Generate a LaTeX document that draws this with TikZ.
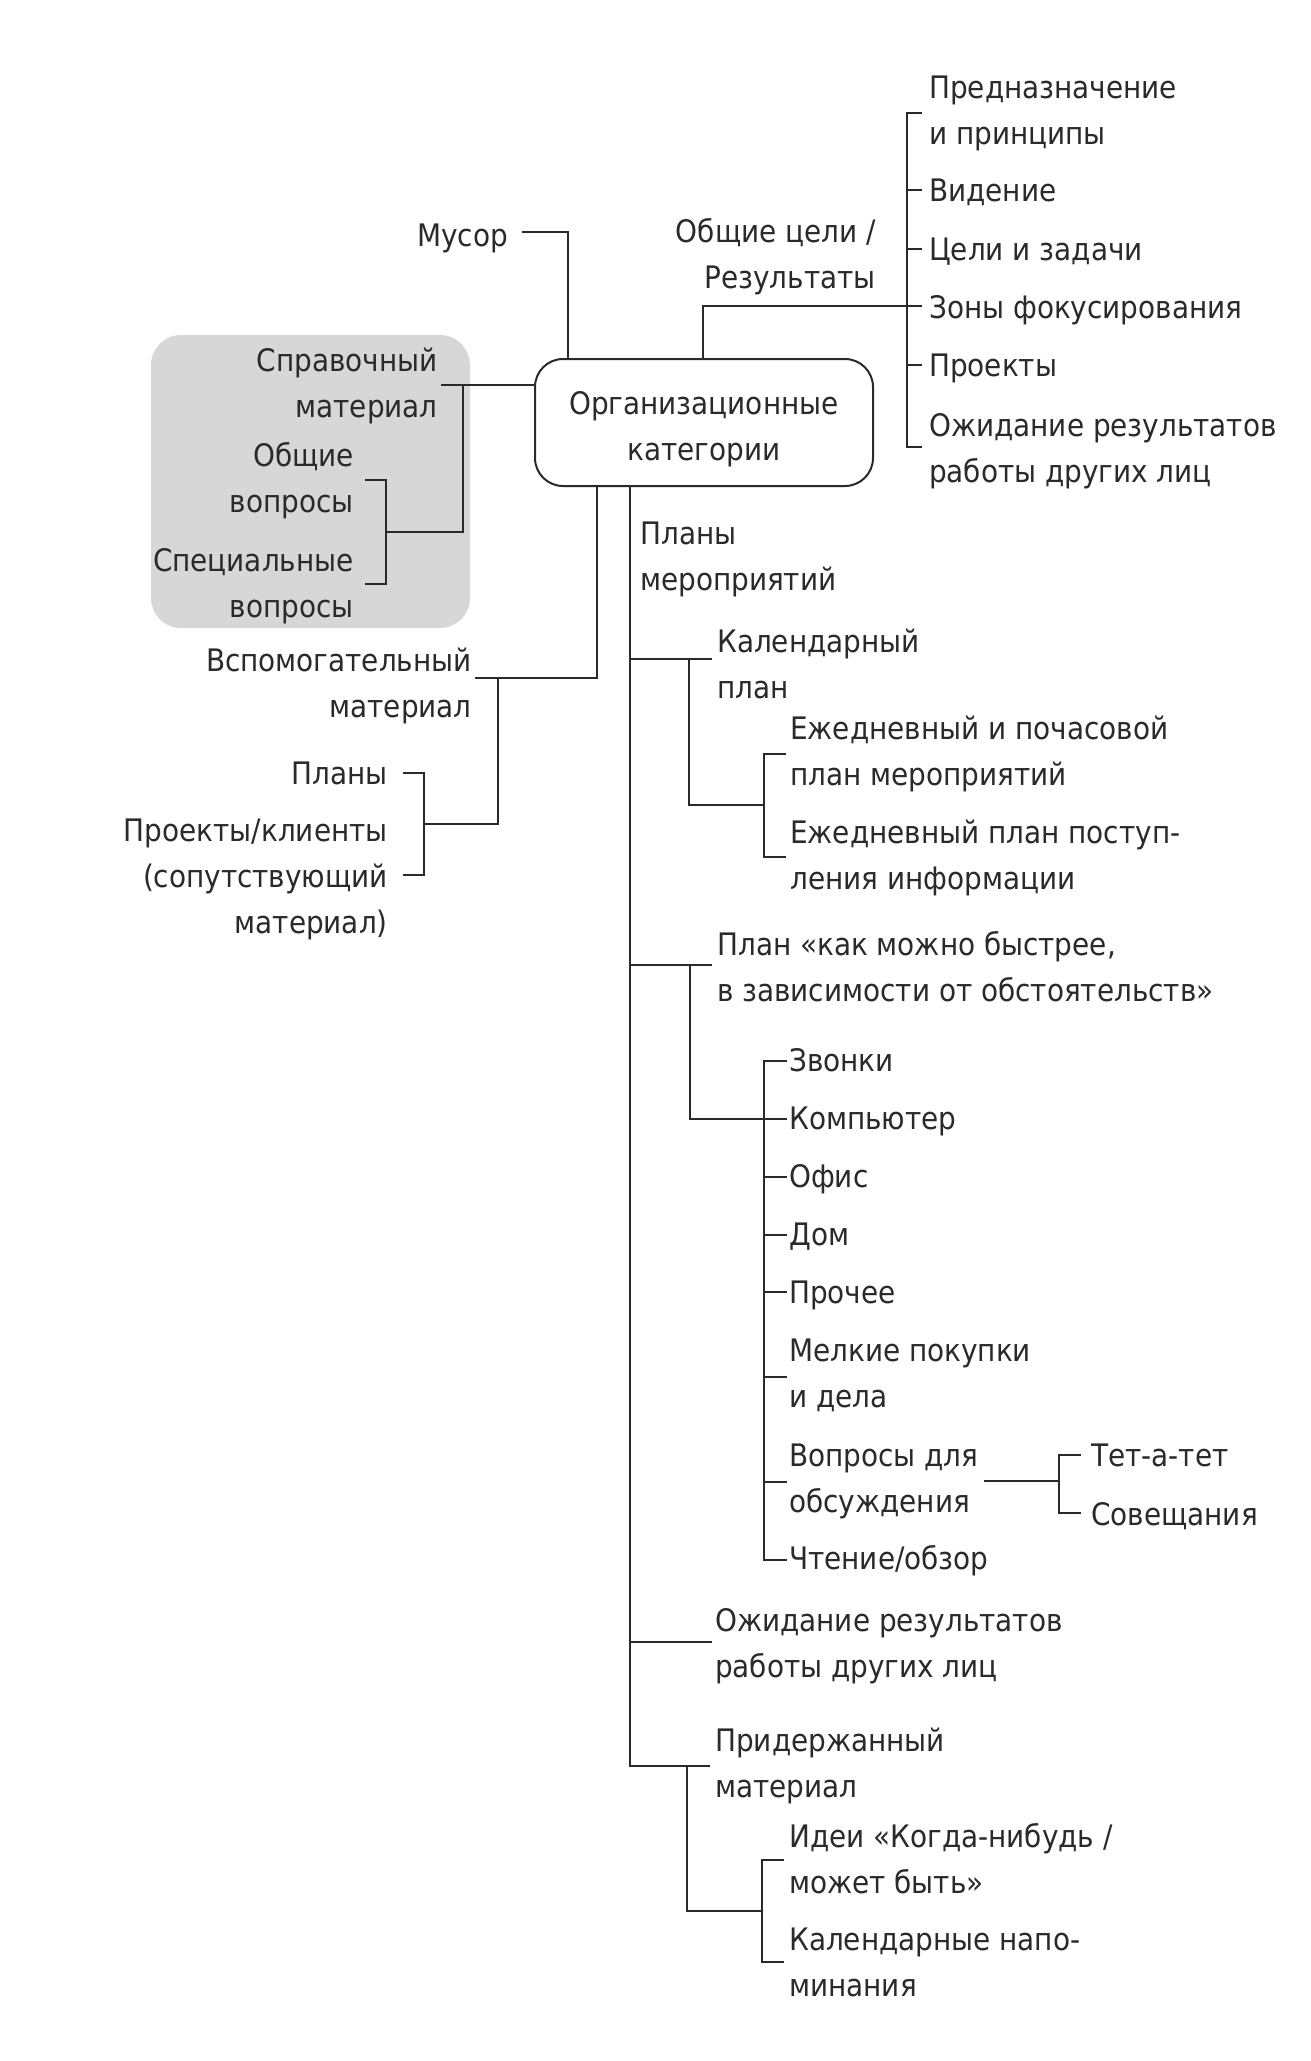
\documentclass[tikz,border=0pt]{standalone}
\usepackage{fontspec}
\setmainfont{DejaVu Sans Condensed}
\definecolor{ink}{HTML}{2A2A2A}
\definecolor{shade}{HTML}{D7D7D7}
\newcommand{\ml}[2][l]{\begin{tabular}[t]{@{}#1@{}}#2\end{tabular}}
\begin{document}
\begin{tikzpicture}[x=1pt,y=-1pt,
  txt/.style={inner sep=0pt,text=ink,font=\fontsize{31}{46}\selectfont},
  lt/.style={txt,anchor=base west},
  rt/.style={txt,anchor=base east},
  ln/.style={draw=ink,line width=2pt}]
\useasboundingbox (0,0) rectangle (1310,2061);
\fill[white] (0,0) rectangle (1310,2061);
% gray background panel
\node[fill=shade,rounded corners=30pt,minimum width=319pt,minimum height=293pt,inner sep=0pt] (panel) at (310.5,481.5) {};
% central box
\node[txt,draw=ink,line width=2pt,rounded corners=28pt,minimum width=338pt,minimum height=127pt,text height=32.2pt,text depth=47.8pt] (org) at (704,422.5) {\ml[c]{Организационные\\категории}};
% top
\node[rt] (trash) at (508,246) {Мусор};
\node[rt] (goals) at (876,242) {\ml[r]{Общие цели /\\Результаты}};
\node[lt] (purpose) at (929,98) {\ml{Предназначение\\и принципы}};
\node[lt] (vision) at (929,201) {Видение};
\node[lt] (objectives) at (929,260) {Цели и задачи};
\node[lt] (areas) at (929,318) {Зоны фокусирования};
\node[lt] (projects) at (929,376) {Проекты};
\node[lt] (waitA) at (929,436) {\ml{Ожидание результатов\\работы других лиц}};
% left
\node[rt] (reference) at (438,371) {\ml[r]{Справочный\\материал}};
\node[rt] (general) at (354,466) {\ml[r]{Общие\\вопросы}};
\node[rt] (special) at (354,571) {\ml[r]{Специальные\\вопросы}};
\node[rt] (support) at (472,671) {\ml[r]{Вспомогательный\\материал}};
\node[rt] (plans) at (388,784) {Планы};
\node[rt] (clients) at (388,841) {\ml[r]{Проекты/клиенты\\(сопутствующий\\материал)}};
% actions
\node[lt] (actions) at (640,544) {\ml{Планы\\мероприятий}};
\node[lt] (calendar) at (717,652) {\ml{Календарный\\план}};
\node[lt] (daily1) at (790,739) {\ml{Ежедневный и почасовой\\план мероприятий}};
\node[lt] (daily2) at (790,843) {\ml{Ежедневный план поступ-\\ления информации}};
\node[lt] (asap) at (717,955) {\ml{План «как можно быстрее,\\в зависимости от обстоятельств»}};
\node[lt] (calls) at (789,1071) {Звонки};
\node[lt] (computer) at (789,1129) {Компьютер};
\node[lt] (office) at (789,1187) {Офис};
\node[lt] (home) at (789,1245) {Дом};
\node[lt] (other) at (789,1303) {Прочее};
\node[lt] (errands) at (789,1361) {\ml{Мелкие покупки\\и дела}};
\node[lt] (agendas) at (789,1466) {\ml{Вопросы для\\обсуждения}};
\node[lt] (reading) at (789,1569) {Чтение/обзор};
\node[lt] (oneone) at (1091,1466) {Тет-а-тет};
\node[lt] (meetings) at (1091,1525) {Совещания};
\node[lt] (waitB) at (715,1631) {\ml{Ожидание результатов\\работы других лиц}};
\node[lt] (hold) at (715,1751) {\ml{Придержанный\\материал}};
\node[lt] (someday) at (789,1847) {\ml{Идеи «Когда-нибудь /\\может быть»}};
\node[lt] (tickler) at (789,1950) {\ml{Календарные напо-\\минания}};
% connectors: top
\draw[ln] (522,232) -| (568,0 |- org.north);
\draw[ln] (703,0 |- org.north) |- (922,306);
\draw[ln] (922,113) -- (907,113) -- (907,447) -- (922,447);
\foreach \y in {190,249,365} \draw[ln] (907,\y) -- (922,\y);
% connectors: left
\draw[ln] (441,385) -- (org.west |- 0,385);
\draw[ln] (463,385) |- (386,532);
\draw[ln] (365,480) -| (386,584) -- (365,584);
\draw[ln] (597,0 |- org.south) |- (475,678);
\draw[ln] (498,678) |- (424,824);
\draw[ln] (403,773) -| (424,875) -- (403,875);
% connectors: actions
\draw[ln] (630,0 |- org.south) -- (630,1766) -- (710,1766);
\draw[ln] (630,659) -- (712,659);
\draw[ln] (689,659) |- (764,805);
\draw[ln] (786,754) -| (764,857) -- (786,857);
\draw[ln] (630,965) -- (712,965);
\draw[ln] (690,965) |- (764,1119);
\draw[ln] (787,1061) -| (764,1560) -- (787,1560);
\foreach \y in {1119,1177,1235,1292,1377,1482} \draw[ln] (764,\y) -- (787,\y);
\draw[ln] (984,1481) -- (1059,1481);
\draw[ln] (1081,1455) -| (1059,1513) -- (1081,1513);
\draw[ln] (630,1642) -- (712,1642);
\draw[ln] (687,1766) |- (762,1911);
\draw[ln] (784,1860) -| (762,1962) -- (784,1962);
\end{tikzpicture}
\end{document}
